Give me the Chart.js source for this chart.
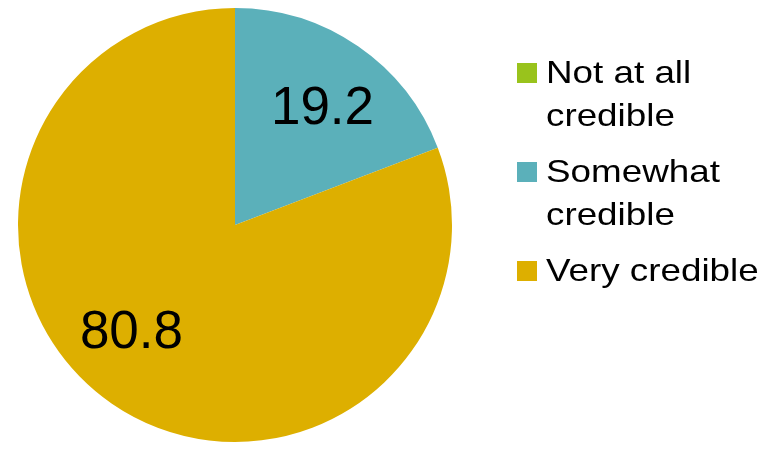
<!DOCTYPE html>
<html>
<head>
<meta charset="utf-8">
<script src="https://cdn.jsdelivr.net/npm/chart.js@4"></script>
<style>
    html, body { margin: 0; padding: 0; background: #fff; }
    #wrap { position: relative; width: 780px; height: 449px; }
    #legend {
        position: absolute; left: 517px; top: 51px;
        font-family: "Liberation Sans", Arial, sans-serif;
        font-size: 32px; color: #000;
    }
    .item { display: flex; align-items: flex-start; margin-bottom: 13px; }
    .box { width: 20px; height: 20px; margin-top: 12px; margin-right: 9px; flex: none; }
    .txt { line-height: 43px; white-space: nowrap; transform: scaleX(1.15); transform-origin: 0 0; }
</style>
</head>
<body>
<div id="wrap">
    <canvas id="credChart" width="780" height="449"></canvas>
    <div id="legend"></div>
</div>
<script>
/* ============================================================
   DATA
   ============================================================ */
const categories = ["Not at all credible", "Somewhat credible", "Very credible"];
const legendLines = [["Not at all", "credible"], ["Somewhat", "credible"], ["Very credible"]];
const shares = [0, 19.2, 80.8];
const sliceColors = ["#99C31C", "#5BB0BA", "#DDAF00"];

/* ============================================================
   VALUE LABELS INSIDE SLICES
   ============================================================ */
const sliceLabels = {
    id: "sliceLabels",
    afterDatasetsDraw(chart, args, opts) {
        const ctx = chart.ctx;
        const meta = chart.getDatasetMeta(0);
        ctx.save();
        ctx.font = opts.font;
        ctx.fillStyle = "#000";
        ctx.textAlign = "center";
        ctx.textBaseline = "middle";
        meta.data.forEach((arc, i) => {
            const v = chart.data.datasets[0].data[i];
            if (!v) return;
            const p = arc.getProps(["x", "y", "startAngle", "endAngle", "outerRadius"], true);
            const a = (p.startAngle + p.endAngle) / 2 + (opts.shift[i] || 0) * Math.PI / 180;
            const r = p.outerRadius * opts.radius;
            ctx.fillText(v.toFixed(1), p.x + Math.cos(a) * r, p.y + Math.sin(a) * r + 3);
        });
        ctx.restore();
    }
};

new Chart(document.getElementById("credChart"), {
    type: "pie",
    data: {
        labels: categories,
        datasets: [{
            data: shares,
            backgroundColor: sliceColors,
            borderWidth: 0
        }]
    },
    options: {
        responsive: false,
        animation: false,
        layout: { padding: { left: 18, right: 328, top: 8, bottom: 7 } },
        plugins: {
            legend: { display: false },
            tooltip: { enabled: false },
            sliceLabels: {
                font: '53px "Liberation Sans", Arial, sans-serif',
                radius: 0.68,
                shift: [0, 1.8, 10]
            }
        }
    },
    plugins: [sliceLabels]
});

/* ============================================================
   LEGEND
   ============================================================ */
const legend = document.getElementById("legend");
categories.forEach((name, i) => {
    const item = document.createElement("div");
    item.className = "item";
    item.innerHTML = `<span class="box" style="background:${sliceColors[i]}"></span>` +
        `<span class="txt">${legendLines[i].join("<br>")}</span>`;
    legend.appendChild(item);
});
</script>
</body>
</html>
